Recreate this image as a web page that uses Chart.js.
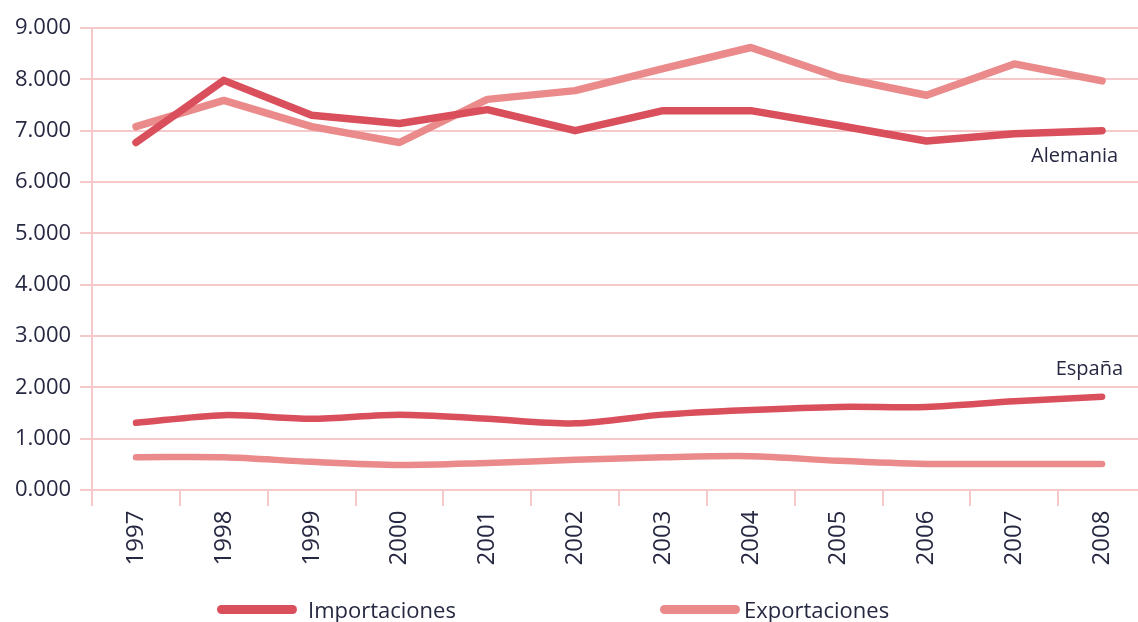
<!DOCTYPE html>
<html>
<head>
<meta charset="utf-8">
<title>Importaciones y exportaciones</title>
<script src="https://cdn.jsdelivr.net/npm/chart.js"></script>
<style>
  html, body { margin: 0; padding: 0; background: #fff; overflow: hidden; }
  #wrap { position: relative; width: 1138px; height: 622px; overflow: hidden; }
  #box { position: absolute; left: 0; top: 0; width: 1150px; height: 622px; }
  .leg { position: absolute; top: 596px; height: 26px; font-family: 'Open Sans', sans-serif;
         font-size: 22px; color: #262842; line-height: 26px; white-space: nowrap; }
  .leg i { position: absolute; top: 9px; height: 9px; border-radius: 5px; }
</style>
</head>
<body>
<div id="wrap">
  <div id="box"><canvas id="grafico" width="1150" height="622"></canvas></div>
  <div class="leg" style="left:217px"><i style="left:0;width:80px;background:#d94f5c"></i><span style="margin-left:91px">Importaciones</span></div>
  <div class="leg" style="left:660px"><i style="left:0;width:80px;background:#ea8a8b"></i><span style="margin-left:84px">Exportaciones</span></div>
</div>
<script>
// años y series (valores en miles)
const anios = ['1997','1998','1999','2000','2001','2002','2003','2004','2005','2006','2007','2008'];
const alemaniaImp = [6770, 7980, 7300, 7140, 7410, 7000, 7390, 7390, 7100, 6800, 6940, 7000];
const alemaniaExp = [7080, 7590, 7080, 6770, 7610, 7780, 8210, 8620, 8040, 7690, 8300, 7970];
const espanaImp   = [1310, 1460, 1390, 1470, 1390, 1300, 1470, 1560, 1620, 1620, 1730, 1820];
const espanaExp   = [640, 640, 550, 490, 530, 590, 640, 660, 570, 510, 510, 510];
const yMin = 0, yMax = 9000, yPaso = 1000;

const colImp = '#d94f5c';
const colExp = '#ea8a8b';
const rosa = '#f5c8c9';
const texto = '#262842';

function serie(nombre, datos, color, ancho, tension) {
  return {
    label: nombre, data: datos, borderColor: color, backgroundColor: color,
    borderWidth: ancho, pointRadius: 0, tension: tension,
    borderCapStyle: 'round', borderJoinStyle: 'round', fill: false
  };
}

// rótulos de país junto al último punto
const rotulos = {
  id: 'rotulos',
  afterDatasetsDraw(chart) {
    const ctx = chart.ctx, x = chart.scales.x, y = chart.scales.y;
    const ult = anios.length - 1;
    ctx.save();
    ctx.font = '20px "Open Sans", sans-serif';
    ctx.fillStyle = texto;
    ctx.textAlign = 'right';
    ctx.textBaseline = 'middle';
    ctx.fillText('Alemania', x.getPixelForValue(ult) + 16, y.getPixelForValue(alemaniaImp[ult]) + 26);
    ctx.fillText('España', x.getPixelForValue(ult) + 21, y.getPixelForValue(espanaImp[ult]) - 27);
    ctx.restore();
  }
};

new Chart(document.getElementById('grafico'), {
  type: 'line',
  data: {
    labels: anios,
    datasets: [
      serie('Importaciones', alemaniaImp, colImp, 7.5, 0),
      serie('Exportaciones', alemaniaExp, colExp, 7.5, 0),
      serie('Importaciones', espanaImp, colImp, 6.5, 0.3),
      serie('Exportaciones', espanaExp, colExp, 6.5, 0.3)
    ]
  },
  options: {
    responsive: false,
    animation: false,
    layout: { padding: { top: 28, right: 4, bottom: 52, left: 6 } },
    plugins: { legend: { display: false }, tooltip: { enabled: false } },
    scales: {
      x: {
        offset: true,
        grid: { offset: true, drawOnChartArea: false, drawTicks: true, tickLength: 16, color: rosa, lineWidth: 2 },
        border: { display: true, color: rosa, width: 2 },
        ticks: { minRotation: 90, maxRotation: 90, padding: 4.5, color: texto,
                 font: { family: 'Open Sans', size: 24 } }
      },
      y: {
        min: yMin, max: yMax,
        grid: { color: rosa, lineWidth: 2, tickLength: 12 },
        border: { display: true, color: rosa, width: 2 },
        ticks: { stepSize: yPaso, padding: 9, color: texto,
                 font: { family: 'Open Sans', size: 22 },
                 callback: v => (v / 1000).toFixed(3) }
      }
    }
  },
  plugins: [rotulos]
});
</script>
</body>
</html>
